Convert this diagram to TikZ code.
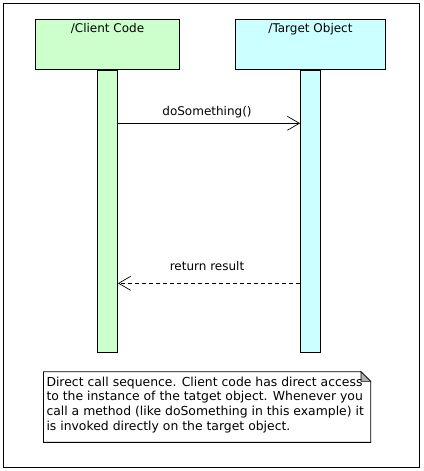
\documentclass[tikz,border=0pt]{standalone}
\usepackage{fontspec}
\setmainfont{DejaVu Sans}
\usetikzlibrary{arrows.meta}
\definecolor{clientgreen}{RGB}{204,255,204}
\definecolor{targetcyan}{RGB}{204,255,255}
\tikzset{
  objbox/.style={draw=black, line width=0.9pt, minimum width=144pt, minimum height=50pt, inner sep=0pt},
  lifebar/.style={draw=black, line width=0.9pt, minimum width=20pt, minimum height=282.5pt, inner sep=0pt},
  lbl/.style={font=\fontsize{12}{14}\selectfont, inner sep=0pt, anchor=base},
  msg/.style={line width=0.7pt, -{Straight Barb[length=12pt,width=14pt,line width=0.7pt]}},
  reply/.style={msg, dash pattern=on 4pt off 3pt},
  notetext/.style={font=\fontsize{12.4}{14.7}\selectfont, inner sep=0pt, align=left, anchor=north west}
}
\begin{document}
\begin{tikzpicture}[x=1pt,y=-1pt]
\useasboundingbox (0,0) rectangle (423,471);
\draw[line width=1pt] (3.5,3.5) rectangle (419.5,467);
% objects
\node[objbox, fill=clientgreen, minimum width=144pt] (client) at (107.5,44.5) {};
\node[objbox, fill=targetcyan, minimum width=150pt] (target) at (310.5,44.5) {};
\node[lbl] (clientlbl) at (107.5,32) {/Client Code};
\node[lbl] (targetlbl) at (310.5,32) {/Target Object};
% lifelines
\node[lifebar, fill=clientgreen, anchor=north] (cbar) at (client.south) {};
\node[lifebar, fill=targetcyan, anchor=north] (tbar) at (target.south) {};
% messages
\coordinate (m1) at (0,123.3);
\coordinate (m2) at (0,283.3);
\draw[msg] (cbar.east |- m1) -- (tbar.west |- m1);
\draw[reply] (tbar.west |- m2) -- (cbar.east |- m2);
\node[lbl] (calllbl) at (207,115) {doSomething()};
\node[lbl] (retlbl) at (207,270) {return result};
% note
\draw[line width=0.9pt, fill=white] (43.5,371.7) -- (361,371.7) -- (370.7,381.4) -- (370.7,442.3) -- (43.5,442.3) -- cycle;
\draw[line width=0.6pt, fill=gray!60] (361,371.7) -- (361,381.4) -- (370.7,381.4) -- cycle;
\node[notetext] (note) at (46.3,376.6) {Direct call sequence. Client code has direct access\\to the instance of the tatget object. Whenever you\\call a method (like doSomething in this example) it\\is invoked directly on the target object.};
\end{tikzpicture}
\end{document}
